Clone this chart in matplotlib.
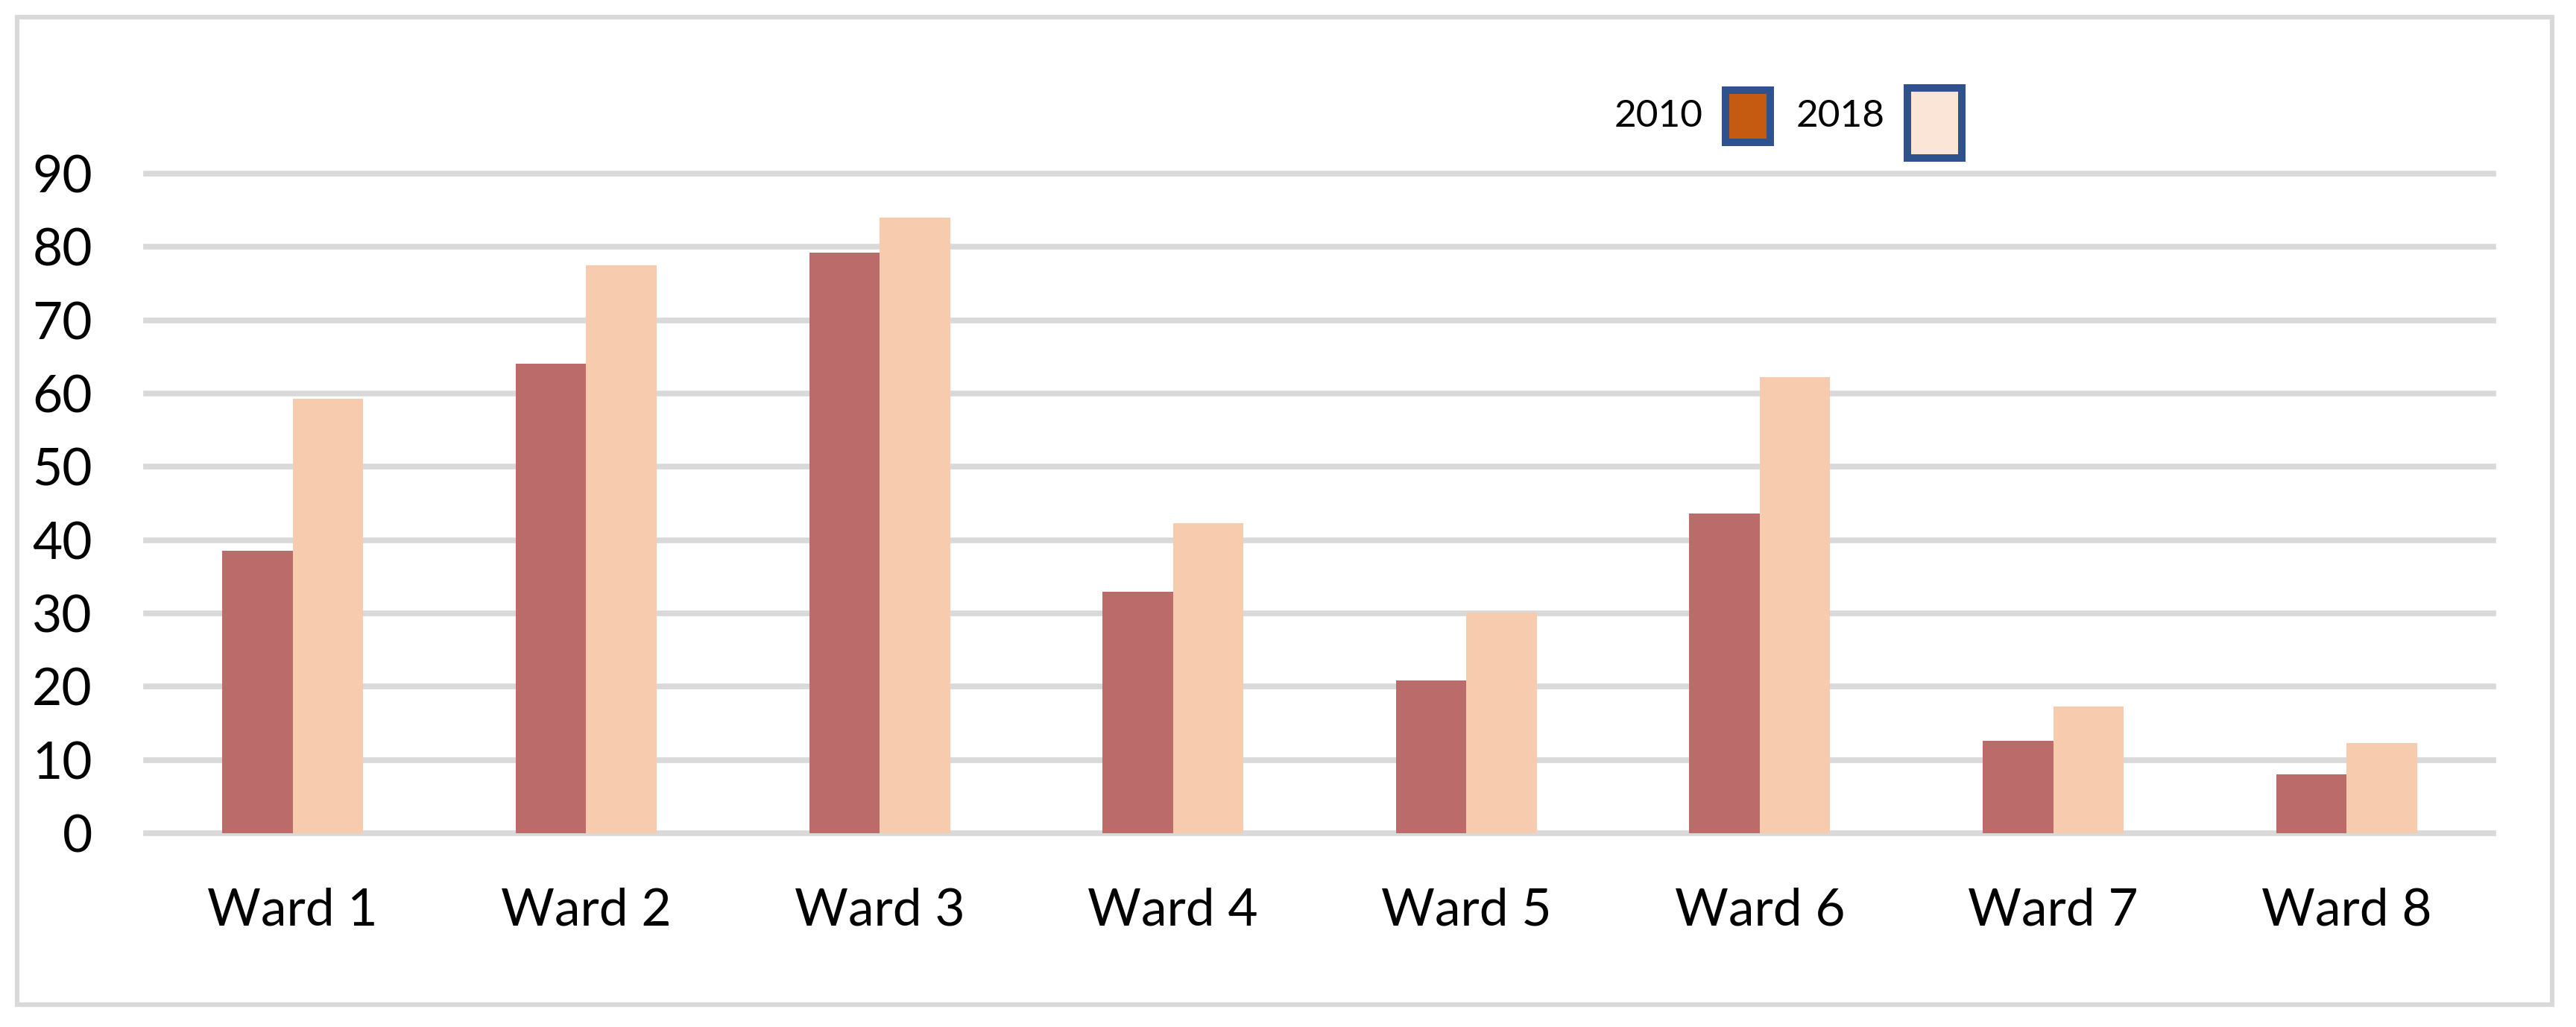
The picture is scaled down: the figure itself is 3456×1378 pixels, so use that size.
import matplotlib
matplotlib.use("Agg")
import matplotlib.pyplot as plt
import numpy as np
from matplotlib.patches import Rectangle

plt.rcParams["font.family"] = ["Lato", "DejaVu Sans"]

# ── data ────────────────────────────────────────────────────────────────
wards = ["Ward 1", "Ward 2", "Ward 3", "Ward 4", "Ward 5", "Ward 6", "Ward 7", "Ward 8"]
vals_2010 = [38.5, 64.1, 79.2, 32.9, 20.8, 43.6, 12.6, 8.0]
vals_2018 = [59.3, 77.5, 84.0, 42.3, 30.1, 62.2, 17.3, 12.3]
y_ticks = [0, 10, 20, 30, 40, 50, 60, 70, 80, 90]
series = ["2010", "2018"]

W, H = 3456, 1378
fig = plt.figure(figsize=(W / 100, H / 100), dpi=100)


def fx(px):
    return px / W


def fy(py):
    return 1 - py / H


# axes placed in pixel terms of the reference
ax = fig.add_axes([fx(196), fy(1118), fx(3345) - fx(196), fy(233) - fy(1118)])

x = np.arange(len(wards))
bw = 0.24
ax.bar(x - bw / 2, vals_2010, width=bw, color="#BC6B6B", zorder=2)
ax.bar(x + bw / 2, vals_2018, width=bw, color="#F7CBAE", zorder=2)

ax.set_xlim(-0.5, len(wards) - 0.5)
ax.set_ylim(0, 90)
ax.set_yticks(y_ticks)
ax.set_xticks(x)
ax.set_xticklabels(wards)

ax.set_axisbelow(True)
ax.yaxis.grid(True, color="#D9D9D9", linewidth=5.5)
for gl in ax.get_ygridlines():
    gl.set_clip_on(False)
ax.xaxis.grid(False)

for s in ax.spines.values():
    s.set_visible(False)
ax.tick_params(axis="both", length=0, labelsize=50, colors="black")
ax.tick_params(axis="y", pad=52)
ax.tick_params(axis="x", pad=52)

# ── legend drawn like the original (swatches to the right of labels) ──
legend_items = [
    (series[0], "#C55A11", (2310, 116, 2380, 196), 2225),
    (series[1], "#FBE5D6", (2554, 113, 2637, 217), 2469),
]
for label, fill, (x0, y0, x1, y1), tx in legend_items:
    fig.patches.append(Rectangle((fx(x0), fy(y1)), fx(x1 - x0), fy(y0) - fy(y1),
                                 transform=fig.transFigure, facecolor="#2F528F",
                                 edgecolor="none"))
    b = 10
    fig.patches.append(Rectangle((fx(x0 + b), fy(y1 - b)), fx(x1 - x0 - 2 * b),
                                 fy(y0 + b) - fy(y1 - b),
                                 transform=fig.transFigure, facecolor=fill,
                                 edgecolor="none"))
    fig.text(fx(tx), fy(156), label, ha="center", va="center", fontsize=37)

# outer chart border
fig.patches.append(Rectangle((fx(23), fy(1348)), fx(3424 - 23), fy(23) - fy(1348),
                             transform=fig.transFigure, facecolor="none",
                             edgecolor="#D9D9D9", linewidth=4.5))

fig.savefig("out.png", dpi=100)
